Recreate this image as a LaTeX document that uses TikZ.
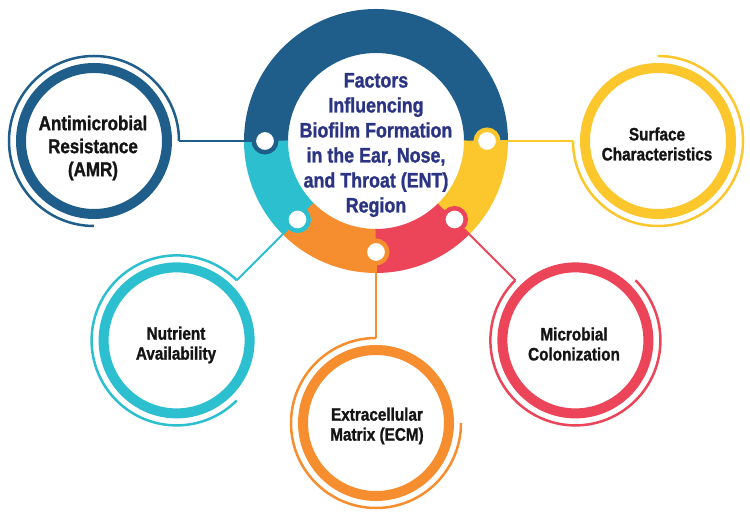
\documentclass[tikz,border=0pt]{standalone}
\usepackage{fontspec}
\setmainfont[FakeStretch=0.85, BoldFeatures={FakeBold=1.2}]{Liberation Sans}
\usepackage{tikz}
\usepackage{xcolor}

\definecolor{ringblue}{HTML}{1F5E8B}
\definecolor{ringcyan}{HTML}{2CBFCF}
\definecolor{ringorange}{HTML}{F68D2E}
\definecolor{ringred}{HTML}{EC4459}
\definecolor{ringyellow}{HTML}{FCC62D}
\definecolor{titlenavy}{HTML}{2B3483}

\tikzset{
  factor/.style={circle, draw=#1, line width=10pt, minimum size=146pt, inner sep=0pt,
    outer sep=12pt},
  factortext/.style={align=center, text=black!92, font=\bfseries\fontsize{18}{20}\selectfont},
  knob/.style={circle, draw=#1, fill=white, line width=4.5pt, minimum size=22.5pt, inner sep=0pt},
  link/.style={draw=#1, line width=2pt},
  swirl/.style={draw=#1, line width=2.5pt},
}

\begin{document}
\begin{tikzpicture}[x=1pt, y=1pt]
\useasboundingbox (0,0) rectangle (750,518);
\coordinate (c) at (376,377);
% ring segments
\foreach \col/\a/\b in {ringblue/0/180, ringcyan/180/225, ringorange/225/270,
                        ringred/270/315, ringyellow/315/360}
    \draw[\col, line width=44pt] (c) ++(\a:110) arc (\a:\b:110);
% knobs
\node[knob=ringblue] (kamr) at (265,377) {};
\node[knob=ringyellow] (ksurf) at (487,377) {};
\node[knob=ringred] (kmicro) at (454.5,298.5) {};
\node[knob=ringorange] (kecm) at (376,266) {};
\node[knob=ringcyan] (knutr) at (297.5,298.5) {};
\node[align=center, text=titlenavy, font=\bfseries\fontsize{21}{25}\selectfont] (hub) at (376,373)
    {Factors\\Influencing\\Biofilm Formation\\in the Ear, Nose,\\and Throat (ENT)\\Region};
% factors
\node[factor=ringblue] (amr) at (94,377) {};
\node[factor=ringyellow] (surf) at (658,377) {};
\node[factor=ringred] (micro) at (575.4,177.6) {};
\node[factor=ringorange] (ecm) at (376,95) {};
\node[factor=ringcyan] (nutr) at (176.6,177.6) {};
\node[factortext, font=\bfseries\fontsize{20}{23}\selectfont] (amrtxt) at (93,370)
    {Antimicrobial\\Resistance\\(AMR)};
\node[factortext] (surftxt) at (657,374) {Surface\\Characteristics};
\node[factortext] (microtxt) at (574,174) {Microbial\\Colonization};
\node[factortext] (ecmtxt) at (377,92) {Extracellular\\Matrix (ECM)};
\node[factortext] (nutrtxt) at (176,173) {Nutrient\\Availability};
% links
\draw[link=ringblue] (kamr) -- (amr);
\draw[link=ringyellow] (ksurf) -- (surf);
\draw[link=ringred] (kmicro) -- (micro);
\draw[link=ringorange] (kecm) -- (ecm);
\draw[link=ringcyan] (knutr) -- (nutr);
% outer arcs
\draw[swirl=ringblue] (amr.0) arc (0:270:85);
\draw[swirl=ringyellow] (surf.180) arc (180:450:85);
\draw[swirl=ringred] (micro.135) arc (135:405:85);
\draw[swirl=ringorange] (ecm.90) arc (90:360:85);
\draw[swirl=ringcyan] (nutr.45) arc (45:315:85);
\end{tikzpicture}
\end{document}
